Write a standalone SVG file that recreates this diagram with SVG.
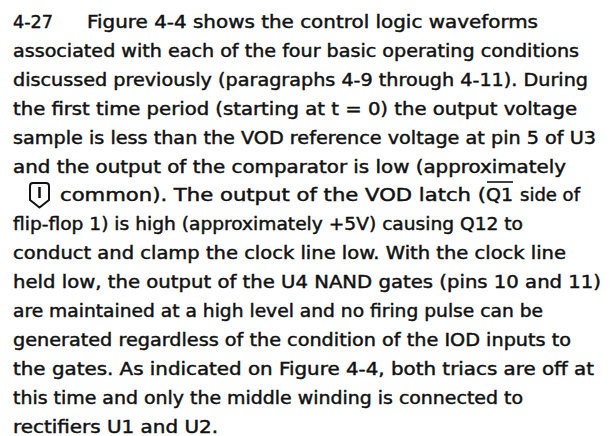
<svg xmlns="http://www.w3.org/2000/svg" width="613" height="436" viewBox="0 0 613 436">
<style>
  .t { font-family: "DejaVu Sans", "Liberation Sans", sans-serif; font-size: 16.8px; fill: #111; stroke: #111; stroke-width: 0.45px; }
  .sym { fill: none; stroke: #111; stroke-width: 2; stroke-linejoin: round; }
</style>
<rect width="613" height="436" fill="#fff"/>
<g id="paragraph" class="t" xml:space="preserve">
  <text x="13" y="28" textLength="40" lengthAdjust="spacingAndGlyphs">4-27</text>
  <text x="87" y="28" textLength="451" lengthAdjust="spacingAndGlyphs">Figure 4-4 shows the control logic waveforms</text>
  <text x="13" y="56.9" textLength="566" lengthAdjust="spacingAndGlyphs">associated with each of the four basic operating conditions</text>
  <text x="13" y="85.8" textLength="575" lengthAdjust="spacingAndGlyphs">discussed previously (paragraphs 4-9 through 4-11).  During</text>
  <text x="13" y="114.7" textLength="564" lengthAdjust="spacingAndGlyphs">the first time period (starting at t = 0) the output voltage</text>
  <text x="13" y="143.6" textLength="583" lengthAdjust="spacingAndGlyphs">sample is less than the VOD reference voltage at pin 5 of U3</text>
  <text x="13" y="172.5" textLength="553" lengthAdjust="spacingAndGlyphs">and the output of the comparator is low (approximately</text>
  <text x="60" y="201.4" textLength="426" lengthAdjust="spacingAndGlyphs">common).  The output of the VOD latch (</text>
  <text x="486" y="201.4" textLength="27" lengthAdjust="spacingAndGlyphs">Q1</text>
  <text x="520" y="201.4" textLength="60" lengthAdjust="spacingAndGlyphs">side of</text>
  <text x="13" y="230.3" textLength="510" lengthAdjust="spacingAndGlyphs">flip-flop 1) is high (approximately +5V) causing Q12 to</text>
  <text x="13" y="259.2" textLength="553" lengthAdjust="spacingAndGlyphs">conduct and clamp the clock line low.  With the clock line</text>
  <text x="13" y="288.1" textLength="588" lengthAdjust="spacingAndGlyphs">held low, the output of the U4 NAND gates (pins 10 and 11)</text>
  <text x="13" y="317" textLength="530" lengthAdjust="spacingAndGlyphs">are maintained at a high level and no firing pulse can be</text>
  <text x="13" y="345.9" textLength="558" lengthAdjust="spacingAndGlyphs">generated regardless of the condition of the IOD inputs to</text>
  <text x="13" y="374.8" textLength="581" lengthAdjust="spacingAndGlyphs">the gates.  As indicated on Figure 4-4, both triacs are off at</text>
  <text x="13" y="403.7" textLength="510" lengthAdjust="spacingAndGlyphs">this time and only the middle winding is connected to</text>
  <text x="13" y="432.6" textLength="205" lengthAdjust="spacingAndGlyphs">rectifiers U1 and U2.</text>
</g>
<g id="overline">
  <line x1="487" y1="182" x2="513" y2="182" stroke="#111" stroke-width="1.6"/>
</g>
<g id="common-symbol">
  <path class="sym" d="M30,200 L30,186 Q30,183 33,183 L46,183 Q49,183 49,186 L49,200 L39.5,207.5 Z"/>
  <line x1="39.5" y1="187" x2="39.5" y2="198" stroke="#111" stroke-width="2.5"/>
</g>
</svg>
